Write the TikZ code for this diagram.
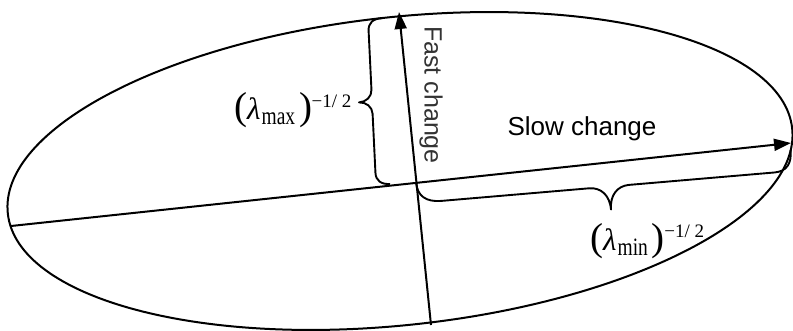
\documentclass[tikz,border=0pt]{standalone}
\usepackage{fontspec}
\usepackage{graphicx}
\setmainfont{Liberation Serif}
\newfontfamily\arialfont{Liberation Sans}
\usetikzlibrary{arrows.meta}
\newcommand{\lamlabel}[1]{%
{\fontsize{39}{39}\selectfont (}\kern0pt{\fontsize{31}{31}\selectfont\itshape λ}\kern1pt\raisebox{-5pt}{\scalebox{0.78}[1]{\fontsize{25}{25}\selectfont #1}}\kern4pt{\fontsize{39}{39}\selectfont )}\kern-0.5pt\raisebox{13pt}{\fontsize{19}{19}\selectfont −1/ 2}}
\begin{document}
\begin{tikzpicture}[x=1pt,y=1pt,
  line/.style={line width=2pt,black},
  axisarrow/.style={line,-{Triangle[length=17pt,width=12pt]}},
  bracepath/.style={line width=1.9pt,line join=round},
  slowtext/.style={font=\arialfont\fontsize{26}{26}\selectfont},
  fasttext/.style={font=\arialfont\fontsize{25}{25}\selectfont,text=black!80},
  lamtext/.style={inner sep=0pt,anchor=base west}]
\useasboundingbox (0,0) rectangle (793,330);
% ellipse
\draw[line,rotate around={6.2:(400,159)}] (400,159) ellipse [x radius=394.5, y radius=154];
% axis end points
\coordinate (L) at (11,104);
\coordinate (R) at (791,187);
\coordinate (B) at (431,5);
\coordinate (T) at (399,318);
\draw[axisarrow] (L) -- (R);
\draw[axisarrow] (B) -- (T);
% max brace (tip left)
\begin{scope}[shift={(390,146)},rotate=92.76]
\draw[bracepath] (0,0) .. controls (0,9) and (4,14) .. (12,14) -- (71,14)
  .. controls (78,14) and (83,20) .. (83,27)
  .. controls (83,20) and (88,14) .. (95,14) -- (154,14)
  .. controls (162,14) and (166,9) .. (166,0);
\end{scope}
% min brace (tip down)
\begin{scope}[shift={(416,148)},rotate=4.88,yscale=-1]
\draw[bracepath] (0,0) .. controls (0,14) and (8,21) .. (24,21) -- (172,21)
  .. controls (184,21) and (192,30) .. (192,44)
  .. controls (192,30) and (200,21) .. (212,21) -- (358,21)
  .. controls (370,21) and (376,14) .. (376,0);
\end{scope}
% texts
\node[slowtext] (slow) at (582,201) {Slow change};
\node[fasttext,rotate=-90] (fast) at (431,235) {Fast change};
\node[lamtext] (lmax) at (234,210) {\lamlabel{max}};
\node[lamtext] (lmin) at (590,80) {\lamlabel{min}};
\end{tikzpicture}
\end{document}
